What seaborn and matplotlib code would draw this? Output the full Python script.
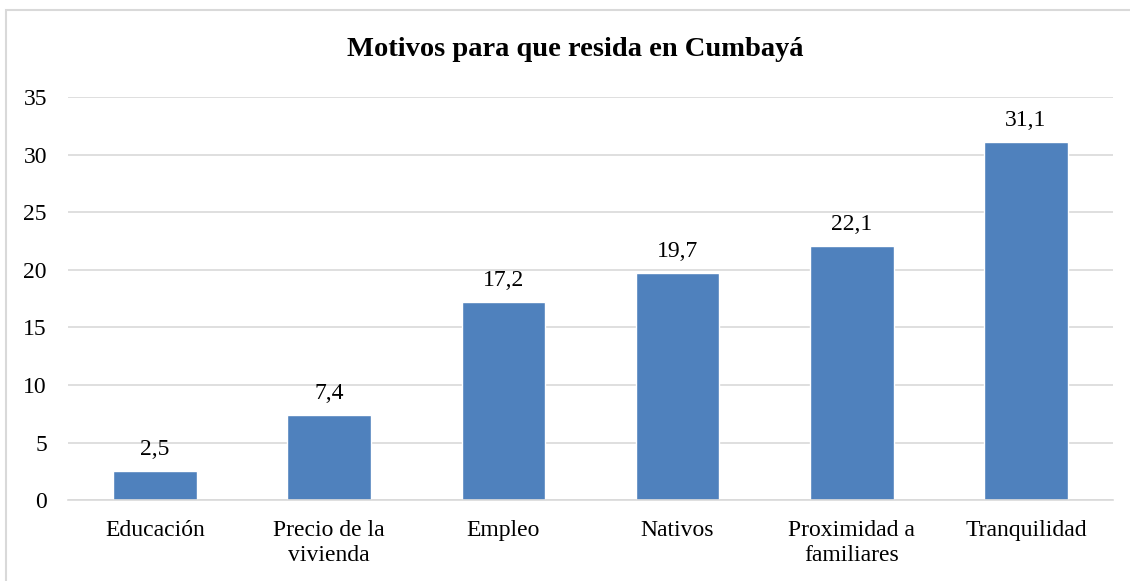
import matplotlib
matplotlib.use("Agg")
import matplotlib.pyplot as plt
import pandas as pd
import seaborn as sns
from matplotlib.patches import Rectangle

# Chart data
categories = ["Educación", "Precio de la\nvivienda", "Empleo", "Nativos",
              "Proximidad a\nfamiliares", "Tranquilidad"]
values = [2.5, 7.4, 17.2, 19.7, 22.1, 31.1]
y_ticks = [0, 5, 10, 15, 20, 25, 30, 35]

df = pd.DataFrame({"motivo": categories, "valor": values})

sns.set_theme(style="white")
plt.rcParams["font.family"] = ["Liberation Serif", "DejaVu Serif"]

fig = plt.figure(figsize=(11.3, 5.81), dpi=100)
ax = fig.add_axes([0.060, 0.139, 0.925, 0.694])

sns.barplot(data=df, x="motivo", y="valor", color="#4F81BD", saturation=1,
            width=0.48, ax=ax)

# value labels with decimal comma
for i, v in enumerate(values):
    ax.annotate(f"{v:.1f}".replace(".", ","), (i, v), xytext=(0, 8),
                textcoords="offset points", ha="center", va="bottom",
                fontsize=17, color="#000000")

ax.set_ylim(0, 35)
ax.set_yticks(y_ticks)
ax.set_xlim(-0.5, len(categories) - 0.5)
ax.yaxis.grid(True, color="#D9D9D9", linewidth=1.2)
ax.set_axisbelow(True)
for side in ["top", "right", "left"]:
    ax.spines[side].set_visible(False)
ax.spines["bottom"].set_color("#D9D9D9")
ax.spines["bottom"].set_linewidth(1.2)

ax.set_xlabel("")
ax.set_ylabel("")
ax.tick_params(axis="y", labelsize=17, length=0, pad=15, colors="#000000")
ax.tick_params(axis="x", labelsize=17, length=0, pad=14, colors="#000000")
for lbl in ax.get_xticklabels():
    lbl.set_linespacing(1.3)

# tick marks between categories
ax.set_xticks([i - 0.5 for i in range(len(categories) + 1)], minor=True)
ax.tick_params(axis="x", which="minor", length=6, width=1.2, color="#D9D9D9")

fig.text(575 / 1130, 1 - 50 / 581, "Motivos para que resida en Cumbayá",
         fontsize=20.5, fontweight="bold", ha="center", va="center",
         color="#000000")

# chart border (partly cropped)
fig.patches.append(Rectangle((6 / 1130, -0.1), 1.2, 1.1 - 10 / 581,
                             transform=fig.transFigure, fill=False,
                             edgecolor="#D9D9D9", linewidth=1.5))

fig.savefig("out.png", dpi=100)
